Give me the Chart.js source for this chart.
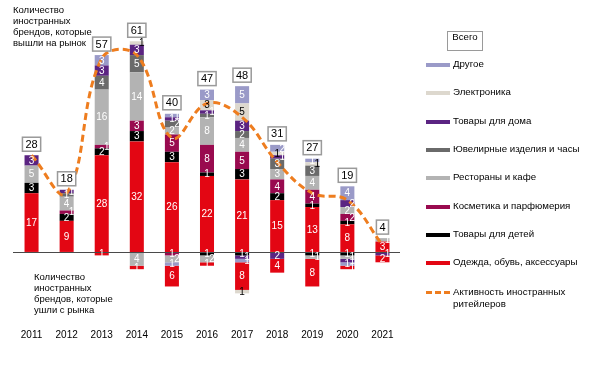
<!DOCTYPE html>
<html>
<head>
<meta charset="utf-8">
<script src="https://cdn.jsdelivr.net/npm/chart.js@4.4.1/dist/chart.umd.min.js"></script>
<style>
  body { margin: 0; background: #fff; }
  #wrap { position: relative; width: 602px; height: 365px; font-family: "Liberation Sans", Arial, sans-serif; font-size: 9.7px; color: #000; }
  canvas { position: absolute; left: 0; top: 0; }
  .note { position: absolute; line-height: 11px; font-size: 9.5px; }
  .leg { position: absolute; left: 426px; line-height: 12px; }
  .sw { position: absolute; left: 0; width: 24px; height: 4px; }
  .lt { position: absolute; left: 27px; white-space: nowrap; }
  #total { position: absolute; left: 447px; top: 31px; width: 34px; height: 18px; border: 1.5px solid #9a9a9a; text-align: center; line-height: 10px; }
</style>
</head>
<body>
<div id="wrap">
  <canvas id="chart" width="602" height="365"></canvas>
  <div class="note" style="left:13px; top:4px;">Количество<br>иностранных<br>брендов, которые<br>вышли на рынок</div>
  <div class="note" style="left:34px; top:271px;">Количество<br>иностранных<br>брендов, которые<br>ушли с рынка</div>
  <div id="total">Всего</div>
  <div id="legend"></div>
</div>
<script>
const years = ['2011', '2012', '2013', '2014', '2015', '2016', '2017', '2018', '2019', '2020', '2021'];

// бренды, которые вышли на рынок
const clothesIn     = [17, 9, 28, 32, 26, 22, 21, 15, 13, 8, 3];
const kidsIn        = [3, 2, 2, 3, 3, 1, 3, 2, 1, 1, 0];
const cosmeticsIn   = [0, 1, 1, 3, 5, 8, 5, 4, 4, 2, 0];
const restaurantsIn = [5, 4, 16, 14, 2, 8, 4, 3, 4, 2, 1];
const jewelryIn     = [0, 1, 4, 5, 2, 1, 2, 3, 3, 0, 0];
const homeIn        = [3, 1, 3, 3, 1, 1, 3, 1, 0, 2, 0];
const electronicsIn = [0, 0, 0, 1, 0, 3, 5, 1, 1, 0, 0];
const otherIn       = [0, 0, 3, 0, 1, 3, 5, 2, 1, 4, 0];

// бренды, которые ушли с рынка
const kidsOut        = [0, 0, 0, 0, 0, 1, 1, 0, 1, 1, 0];
const cosmeticsOut   = [0, 0, 0, 0, 1, 0, 0, 0, 0, 0, 0];
const restaurantsOut = [0, 0, 0, 4, 2, 2, 0, 0, 1, 1, 0];
const homeOut        = [0, 0, 0, 0, 0, 0, 1, 2, 0, 1, 1];
const otherOut       = [0, 0, 0, 0, 1, 0, 1, 0, 0, 1, 0];
const clothesOut     = [0, 0, 1, 1, 6, 1, 8, 4, 8, 1, 2];
const electronicsOut = [0, 0, 0, 0, 0, 0, 1, 0, 0, 0, 0];

// активность иностранных ритейлеров
const activity = [28, 17, 56, 57, 33, 43, 39, 26, 17, 15, 2];

const colors = {
  clothes: '#E30613',
  kids: '#000000',
  cosmetics: '#990A4F',
  restaurants: '#B3B3B3',
  jewelry: '#6A6A6A',
  home: '#5B2482',
  electronics: '#DDD8CE',
  other: '#9A9AC8',
  line: '#EE7D1F'
};

const legendItems = [
  ['Другое', colors.other],
  ['Электроника', colors.electronics],
  ['Товары для дома', colors.home],
  ['Ювелирные изделия и часы', colors.jewelry],
  ['Рестораны и кафе', colors.restaurants],
  ['Косметика и парфюмерия', colors.cosmetics],
  ['Товары для детей', colors.kids],
  ['Одежда, обувь, аксессуары', colors.clothes]
];

const legend = document.getElementById('legend');
legendItems.forEach((item, i) => {
  const y = 65 + i * 28.3;
  const row = document.createElement('div');
  row.className = 'leg';
  row.style.top = (y - 2) + 'px';
  row.innerHTML = '<div class="sw" style="background:' + item[1] + '"></div>' +
    '<div class="lt" style="top:-5px">' + item[0] + '</div>';
  legend.appendChild(row);
});
const act = document.createElement('div');
act.className = 'leg';
act.style.top = '291px';
act.innerHTML = '<div class="sw" style="height:0;border-top:3px dashed ' + colors.line + ';width:24px"></div>' +
  '<div class="lt" style="top:-5px">Активность иностранных<br>ритейлеров</div>';
legend.appendChild(act);

function barSet(data, color, sign, textColor) {
  return {
    type: 'bar',
    data: data.map(v => v * sign),
    backgroundColor: color,
    borderWidth: 0,
    stack: 'brands',
    order: 1,
    barPercentage: 0.4,
    categoryPercentage: 1,
    textColor: textColor || '#fff'
  };
}

const totals = years.map((y, i) =>
  clothesIn[i] + kidsIn[i] + cosmeticsIn[i] + restaurantsIn[i] + jewelryIn[i] + homeIn[i] + electronicsIn[i] + otherIn[i]);

const segmentLabels = {
  id: 'segmentLabels',
  afterDatasetsDraw(chart) {
    const ctx = chart.ctx;
    const yScale = chart.scales.y;
    // нулевая линия
    const y0 = Math.round(yScale.getPixelForValue(0)) + 0.5;
    ctx.save();
    ctx.strokeStyle = '#4a4a4a';
    ctx.lineWidth = 1;
    ctx.beginPath();
    ctx.moveTo(chart.chartArea.left - 1, y0);
    ctx.lineTo(chart.chartArea.right, y0);
    ctx.stroke();

    ctx.font = '10px "Liberation Sans", Arial, sans-serif';
    ctx.textAlign = 'center';
    ctx.textBaseline = 'middle';
    const lastY = {};
    chart.data.datasets.forEach((ds, di) => {
      if (ds.type !== 'bar') return;
      const meta = chart.getDatasetMeta(di);
      meta.data.forEach((el, i) => {
        const v = ds.data[i];
        if (!v) return;
        const cy = (el.y + el.base) / 2;
        let dx = 0;
        if (lastY[i] !== undefined && Math.abs(cy - lastY[i]) < 8) dx = 5;
        if (dx === 0) lastY[i] = cy;
        ctx.fillStyle = ds.textColor;
        ctx.fillText(String(Math.abs(v)), el.x + dx, cy + 0.5);
      });
    });
    ctx.restore();
  },
  afterDraw(chart) {
    const ctx = chart.ctx;
    const meta = chart.getDatasetMeta(0);
    ctx.save();
    ctx.font = '11px "Liberation Sans", Arial, sans-serif';
    ctx.textAlign = 'center';
    ctx.textBaseline = 'middle';
    totals.forEach((t, i) => {
      const x = meta.data[i].x;
      const top = chart.scales.y.getPixelForValue(t);
      const w = ctx.measureText(String(t)).width + 6;
      const h = 14;
      const by = top - 4 - h;
      ctx.fillStyle = '#fff';
      ctx.fillRect(x - w / 2, by, w, h);
      ctx.strokeStyle = '#9a9a9a';
      ctx.lineWidth = 1.5;
      ctx.strokeRect(x - w / 2, by, w, h);
      ctx.fillStyle = '#000';
      ctx.fillText(String(t), x, by + h / 2 + 0.5);
    });
    ctx.restore();
  }
};

Chart.defaults.font.family = '"Liberation Sans", Arial, sans-serif';
Chart.defaults.color = '#000';

new Chart(document.getElementById('chart'), {
  data: {
    labels: years,
    datasets: [
      barSet(clothesIn, colors.clothes, 1),
      barSet(kidsIn, colors.kids, 1),
      barSet(cosmeticsIn, colors.cosmetics, 1),
      barSet(restaurantsIn, colors.restaurants, 1),
      barSet(jewelryIn, colors.jewelry, 1),
      barSet(homeIn, colors.home, 1),
      barSet(electronicsIn, colors.electronics, 1, '#000'),
      barSet(otherIn, colors.other, 1),
      barSet(kidsOut, colors.kids, -1),
      barSet(cosmeticsOut, colors.cosmetics, -1),
      barSet(restaurantsOut, colors.restaurants, -1),
      barSet(homeOut, colors.home, -1),
      barSet(otherOut, colors.other, -1),
      barSet(clothesOut, colors.clothes, -1),
      barSet(electronicsOut, colors.electronics, -1, '#000'),
      {
        type: 'line',
        data: activity,
        borderColor: colors.line,
        borderWidth: 3,
        borderDash: [7, 4],
        pointRadius: 0,
        tension: 0.4,
        fill: false,
        stack: 'activity',
        order: 0
      }
    ]
  },
  options: {
    responsive: false,
    animation: false,
    layout: { padding: { left: 14, right: 202, top: 24, bottom: 16 } },
    plugins: { legend: { display: false }, tooltip: { enabled: false } },
    scales: {
      x: {
        stacked: true,
        grid: { display: false, drawTicks: false },
        border: { display: false },
        ticks: { padding: 8, font: { size: 10 }, maxRotation: 0 }
      },
      y: {
        stacked: true,
        min: -20,
        max: 66,
        display: false
      }
    }
  },
  plugins: [segmentLabels]
});
</script>
</body>
</html>
